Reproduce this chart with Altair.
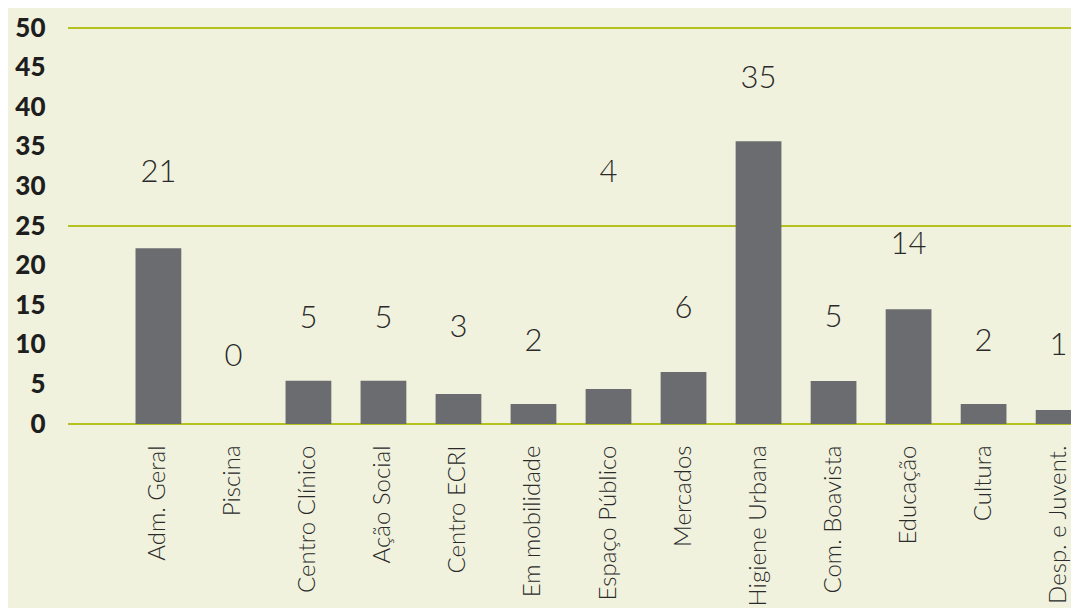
import altair as alt
import pandas as pd

categories = ["Adm. Geral", "Piscina", "Centro Clínico", "Ação Social", "Centro ECRI",
              "Em mobilidade", "Espaço Público", "Mercados", "Higiene Urbana",
              "Com. Boavista", "Educação", "Cultura", "Desp. e Juvent."]
bar_values = [22.2, 0, 5.47, 5.47, 3.79, 2.53, 4.42, 6.57, 35.7, 5.43, 14.5, 2.53, 1.77]
label_text = ["21", "0", "5", "5", "3", "2", "4", "6", "35", "5", "14", "2", "1"]
label_level = [31.7, 8.4, 13.3, 13.3, 12.1, 10.4, 31.7, 14.5, 43.5, 13.4, 22.6, 10.3, 9.9]
grid_values = [0, 25, 50]
y_ticks = list(range(0, 55, 5))

BG = "#f0f2dd"
BAR = "#6b6c70"
GRID = "#b5c11e"
TXT = "#2a2a2a"

df = pd.DataFrame({"cat": categories, "value": bar_values,
                   "label": label_text, "level": label_level})
grid_df = pd.DataFrame({"g": grid_values})

x_axis = alt.Axis(title=None, labelAngle=-90, labelAlign="right",
                  labelBaseline="middle", labelPadding=21, ticks=False,
                  tickSize=0, domain=False, labelFont="Lato",
                  labelFontWeight=300, labelFontSize=24, labelColor=TXT,
                  labelLimit=400, labelOverlap=False)
x_scale = alt.Scale(paddingInner=0.39, paddingOuter=0.9, range=[0, 1081])

y_axis = alt.Axis(title=None, values=y_ticks, grid=False, ticks=False,
                  tickSize=0, domain=False, labelPadding=23,
                  labelOverlap=False, labelFont="Lato", labelFontWeight=900,
                  labelFontSize=26, labelColor="#1e1e1e")
y_scale = alt.Scale(domain=[0, 50], nice=False)

grid = alt.Chart(grid_df).mark_rule(color=GRID, strokeWidth=2).encode(
    y=alt.Y("g:Q", scale=y_scale, axis=y_axis)
)

bars = alt.Chart(df).mark_bar(color=BAR).encode(
    x=alt.X("cat:N", sort=categories, scale=x_scale, axis=x_axis),
    y=alt.Y("value:Q", scale=y_scale, axis=y_axis),
)

labels = alt.Chart(df).mark_text(font="Lato", fontWeight=300, fontSize=31,
                                 color=TXT, baseline="middle", align="center").encode(
    x=alt.X("cat:N", sort=categories, scale=x_scale, axis=x_axis),
    y=alt.Y("level:Q", scale=y_scale, axis=y_axis),
    text="label:N",
)

chart = alt.layer(grid, bars, labels).properties(
    width=1003, height=396, background=BG,
    padding={"left": 60, "top": 20, "right": 0, "bottom": 184},
    autosize=alt.AutoSizeParams(type="none"),
).configure_view(stroke=None)

chart.save("out.html", embed_options={"renderer": "svg", "actions": False})
